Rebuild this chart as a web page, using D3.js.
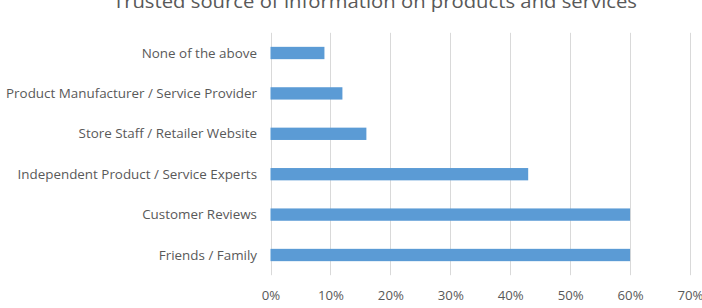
<!DOCTYPE html>
<html><head><meta charset="utf-8">
<script src="https://cdn.jsdelivr.net/npm/d3@7"></script>
<style>body{margin:0;background:#fff;}svg{display:block;}</style>
</head><body>
<svg id="chart" width="702" height="308"></svg>
<script>
const categories = ["None of the above","Product Manufacturer / Service Provider","Store Staff / Retailer Website","Independent Product / Service Experts","Customer Reviews","Friends / Family"];
const values = [0.09,0.12,0.16,0.43,0.60,0.60];
const tickValues = [0,0.1,0.2,0.3,0.4,0.5,0.6,0.7];
const title = "Trusted source of information on products and services";

const svg = d3.select("#chart");
const font = "'Open Sans', sans-serif";
const x = d3.scaleLinear().domain([0,0.7]).range([270.5,690]);
const y = d3.scaleBand().domain(categories).range([32.8,275.2]).paddingInner(0.695).paddingOuter(0.3475);

function stretch(sel, f){
  sel.each(function(){
    const w = this.getComputedTextLength();
    d3.select(this).attr("textLength", w*f).attr("lengthAdjust","spacingAndGlyphs");
  });
}

// gridlines
svg.append("g").selectAll("line").data(tickValues).join("line")
  .attr("x1",d=>Math.round(x(d))+0.5).attr("x2",d=>Math.round(x(d))+0.5)
  .attr("y1",32.8).attr("y2",275.2)
  .attr("stroke","#d9d9d9").attr("stroke-width",1);

// bars
svg.append("g").selectAll("rect").data(categories).join("rect")
  .attr("x",x(0)).attr("y",(d)=>y(d))
  .attr("width",(d,i)=>x(values[i])-x(0)).attr("height",y.bandwidth())
  .attr("fill","#5b9bd5");

// category labels
const yAxis = d3.axisLeft(y).tickSize(0).tickPadding(13.5);
const ga = svg.append("g").attr("transform",`translate(${x(0)},0)`).call(yAxis);
ga.select(".domain").remove();
ga.selectAll("text").attr("font-family",font).attr("font-size",12).attr("fill","#595959").attr("dy","0.38em");
stretch(ga.selectAll("text"), 250/224);

// x axis
const xAxis = d3.axisBottom(x).tickValues(tickValues).tickSize(0).tickPadding(0).tickFormat(d3.format(".0%"));
const gx = svg.append("g").attr("transform","translate(0,291)").call(xAxis);
gx.select(".domain").remove();
gx.selectAll("text").attr("font-family",font).attr("font-size",12).attr("fill","#595959");
stretch(gx.selectAll("text"), 1.1);

// title
svg.append("text").attr("x",375).attr("y",7.5).attr("text-anchor","middle")
  .attr("font-family",font).attr("font-size",18.5).attr("fill","#595959")
  .attr("textLength",524).attr("lengthAdjust","spacingAndGlyphs")
  .text(title);
</script>
</body></html>
